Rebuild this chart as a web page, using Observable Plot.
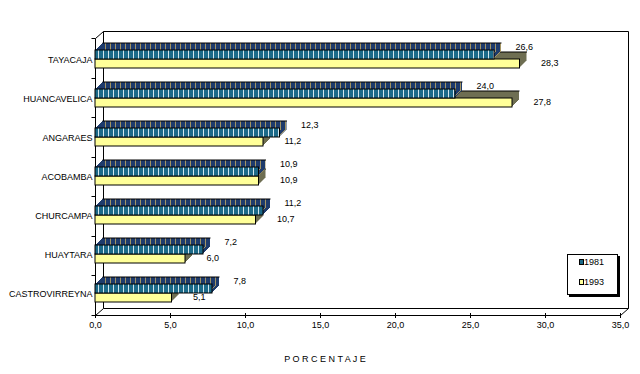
<!DOCTYPE html>
<html><head><meta charset="utf-8">
<script src="https://cdn.jsdelivr.net/npm/d3@7"></script>
<script src="https://cdn.jsdelivr.net/npm/@observablehq/plot@0.6"></script>
<style>html,body{margin:0;padding:0;background:#fff}</style>
</head><body><div id="chart"></div>
<script>
// ---- data ----
const categories = ["TAYACAJA","HUANCAVELICA","ANGARAES","ACOBAMBA","CHURCAMPA","HUAYTARA","CASTROVIRREYNA"];
const values1981 = [26.6, 24.0, 12.3, 10.9, 11.2, 7.2, 7.8];
const values1993 = [28.3, 27.8, 11.2, 10.9, 10.7, 6.0, 5.1];
const seriesNames = ["1981","1993"];
const xTicks = [0, 5, 10, 15, 20, 25, 30, 35];
const axisTitle = "P O R C E N T A J E";

const rows = categories.flatMap((c, i) => [
  {cat: c, series: seriesNames[0], value: values1981[i]},
  {cat: c, series: seriesNames[1], value: values1993[i]}
]);

// ---- layout ----
const W = 640, H = 374, ML = 95, MR = 20, MT = 38, MB = 59;
const D = 7;          // bar depth in px
const BW = 10;        // bar thickness in px
const facetH = (H - MT - MB) / categories.length;
const padOuter = (facetH / BW - 2) / 2;
const fmt = v => v.toFixed(1).replace(".", ",");

function bar3d(s, topFill, sideFill, frontFill) {
  const f = d => d.series === s;
  const m = [];
  for (let k = 1; k <= D; k++)
    m.push(Plot.barX(rows, {filter: f, x: "value", y: "series", fill: topFill, dx: k, dy: -k}));
  for (let k = 1; k <= D; k++)
    m.push(Plot.ruleX(rows, {filter: f, x: "value", y: "series", stroke: k === D ? "#000" : sideFill, dx: k, dy: -k}));
  m.push(Plot.link(rows, {filter: f, x1: d => 0, x2: "value", y1: "series", y2: "series", stroke: "#000", dx: D, dy: -BW / 2 - D}));
  m.push(Plot.barX(rows, {filter: f, x: "value", y: "series", fill: frontFill, stroke: "#000", strokeWidth: 1}));
  return m;
}

const chart = Plot.plot({
  width: W, height: H,
  marginLeft: ML, marginRight: MR, marginTop: MT, marginBottom: MB,
  style: {fontFamily: "Arial, 'Liberation Sans', sans-serif", fontSize: "9px", background: "transparent", color: "#000"},
  facet: {data: rows, y: "cat"},
  fy: {domain: categories, padding: 0, axis: "left", tickSize: 0, tickPadding: 3, label: null},
  y: {domain: seriesNames, paddingInner: 0, paddingOuter: padOuter, align: 0.46, axis: null},
  x: {domain: [0, 35], ticks: xTicks, tickFormat: fmt, tickSize: 5, tickPadding: 3, label: null},
  marks: [
    ...bar3d("1993", "#6e6e52", "#5e5e44", "#ffff99"),
    ...bar3d("1981", "url(#topStripe)", "#13284c", "url(#frontStripe)"),
    Plot.text(rows, {filter: d => d.series === "1981", x: "value", y: "series", text: d => fmt(d.value), textAnchor: "start", dx: 21, dy: -8, fill: "#000"}),
    Plot.text(rows, {filter: d => d.series === "1993", x: "value", y: "series", text: d => fmt(d.value), textAnchor: "start", dx: 21, dy: -1, fill: "#000"})
  ]
});
document.getElementById("chart").appendChild(chart);

// ---- decorations: patterns, walls, legend, title ----
const svg = d3.select(chart);
const wall = svg.insert("g", ":first-child").attr("fill", "none").attr("stroke", "#000").attr("stroke-width", 1);
const defs = svg.insert("defs", ":first-child");
const p1 = defs.append("pattern").attr("id", "frontStripe").attr("patternUnits", "userSpaceOnUse").attr("width", 5).attr("height", 10);
p1.append("rect").attr("width", 5).attr("height", 10).attr("fill", "#1c6a89");
p1.append("rect").attr("x", 3).attr("width", 1).attr("height", 10).attr("fill", "#d4e6ee");
const p2 = defs.append("pattern").attr("id", "topStripe").attr("patternUnits", "userSpaceOnUse").attr("width", 5).attr("height", 10);
p2.append("rect").attr("width", 5).attr("height", 10).attr("fill", "#1e3b6c");
p2.append("rect").attr("x", 3).attr("width", 1).attr("height", 10).attr("fill", "#a39463");

const x0 = ML + 0.5, x1 = W - MR + 0.5, y0 = MT + 0.5, y1 = H - MB + 0.5, DX = 8, DY = 7;
wall.append("path").attr("fill", "#fff").attr("d",
  `M${x0 + DX},${y1 - DY}V${y0 - DY}H${x1 + DX}V${y1 - DY}Z`);
wall.append("path").attr("d",
  `M${x0},${y0}L${x0 + DX},${y0 - DY}M${x0},${y1}L${x0 + DX},${y1 - DY}M${x1},${y1}L${x1 + DX},${y1 - DY}` +
  `M${x0},${y0}V${y1}H${x1}`);
for (let i = 0; i <= categories.length; i++) {
  const yy = Math.round(MT + i * facetH) + 0.5;
  wall.append("path").attr("d", `M${x0 - 4},${yy}H${x0}`);
}

const leg = svg.append("g").attr("text-anchor", "start");
leg.append("rect").attr("x", 569).attr("y", 256).attr("width", 51).attr("height", 41).attr("fill", "#000");
leg.append("rect").attr("x", 567.5).attr("y", 254.5).attr("width", 50).attr("height", 40).attr("fill", "#fff").attr("stroke", "#000");
[["url(#frontStripe)", 0], ["#ffff99", 1]].forEach(([fill, i]) => {
  leg.append("rect").attr("x", 579.5).attr("y", 259.5 + i * 20).attr("width", 4).attr("height", 5).attr("fill", fill).attr("stroke", "#000");
  leg.append("text").attr("x", 584).attr("y", 262 + i * 20).attr("dy", "0.35em").attr("text-anchor", "start").attr("font-size", 9).text(seriesNames[i]);
});

svg.append("text").attr("x", 325).attr("y", 359).attr("dy", "0.35em").attr("text-anchor", "middle")
  .attr("font-size", 9).text(axisTitle);
</script>
</body></html>
